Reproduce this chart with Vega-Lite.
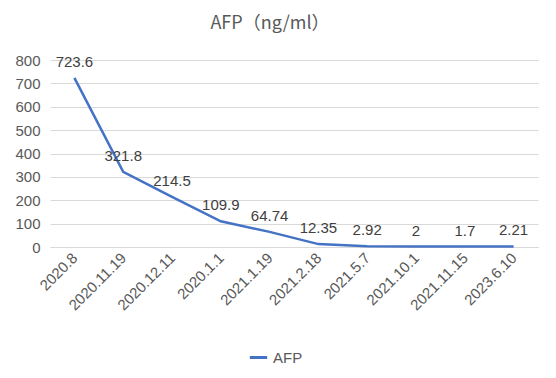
{
  "$schema": "https://vega.github.io/schema/vega-lite/v6.json",
  "width": 488,
  "height": 187,
  "autosize": "none",
  "padding": {"left": 50, "top": 60, "right": 18, "bottom": 131},
  "background": "white",
  "title": {
    "text": "AFP（ng/ml）",
    "anchor": "middle",
    "dx": -24,
    "offset": 20,
    "fontSize": 18,
    "font": "Noto Sans CJK SC",
    "fontWeight": "normal",
    "color": "#595959"
  },
  "data": {
    "values": [
      {"date": "2020.8", "value": 723.6, "label": "723.6", "series": "AFP"},
      {"date": "2020.11.19", "value": 321.8, "label": "321.8", "series": "AFP"},
      {"date": "2020.12.11", "value": 214.5, "label": "214.5", "series": "AFP"},
      {"date": "2020.1.1", "value": 109.9, "label": "109.9", "series": "AFP"},
      {"date": "2021.1.19", "value": 64.74, "label": "64.74", "series": "AFP"},
      {"date": "2021.2.18", "value": 12.35, "label": "12.35", "series": "AFP"},
      {"date": "2021.5.7", "value": 2.92, "label": "2.92", "series": "AFP"},
      {"date": "2021.10.1", "value": 2, "label": "2", "series": "AFP"},
      {"date": "2021.11.15", "value": 1.7, "label": "1.7", "series": "AFP"},
      {"date": "2023.6.10", "value": 2.21, "label": "2.21", "series": "AFP"}
    ]
  },
  "config": {
    "view": {"stroke": null},
    "font": "Liberation Sans",
    "axis": {"labelFont": "Liberation Sans", "labelFontSize": 15, "labelColor": "#595959", "ticks": false, "title": null, "labelOverlap": false}
  },
  "encoding": {
    "x": {"field": "date", "type": "ordinal", "sort": null,
          "scale": {"type": "point", "padding": 0.5},
          "axis": {"labelAngle": -45, "labelAlign": "right", "labelBaseline": "middle", "labelPadding": 8, "domainColor": "#d9d9d9", "domainWidth": 1, "grid": false}},
    "y": {"field": "value", "type": "quantitative",
          "scale": {"domain": [0, 800], "nice": false},
          "axis": {"values": [0,100,200,300,400,500,600,700,800], "domain": false, "gridColor": "#d9d9d9", "labelPadding": 10}}
  },
  "layer": [
    {
      "mark": {"type": "line", "strokeWidth": 2.5},
      "encoding": {
        "color": {"field": "series", "type": "nominal",
                  "scale": {"range": ["#4472C4"]},
                  "legend": {"title": null, "orient": "none", "legendX": 198, "legendY": 287, "symbolType": "stroke", "symbolStrokeWidth": 3, "symbolSize": 300, "labelFontSize": 15, "labelColor": "#595959", "labelFont": "Liberation Sans"}}
      }
    },
    {
      "mark": {"type": "text", "dy": -16, "fontSize": 15, "color": "#404040", "font": "Liberation Sans"},
      "encoding": {
        "text": {"field": "label"}
      }
    }
  ]
}
